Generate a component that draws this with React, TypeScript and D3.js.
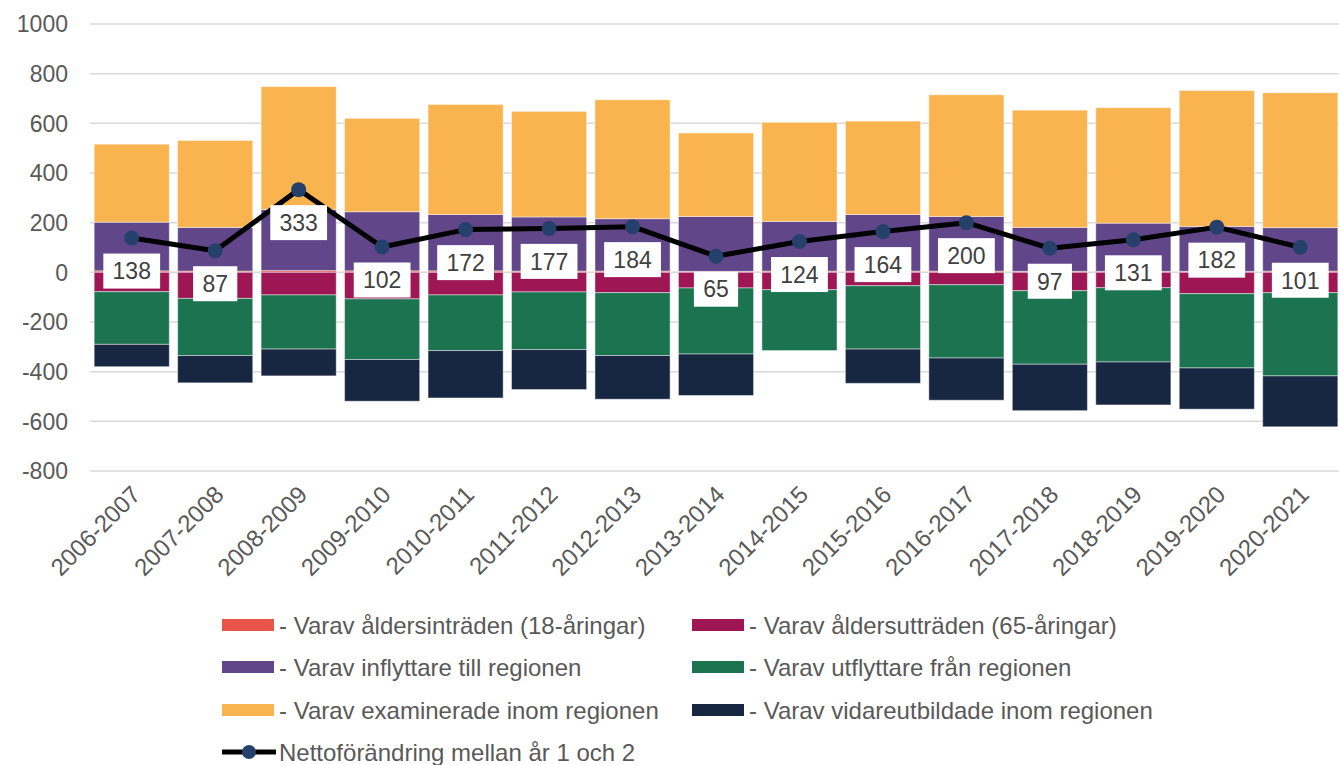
import React, { useEffect, useRef } from "react";
import * as d3 from "d3";

const years = [
  "2006-2007", "2007-2008", "2008-2009", "2009-2010", "2010-2011",
  "2011-2012", "2012-2013", "2013-2014", "2014-2015", "2015-2016",
  "2016-2017", "2017-2018", "2018-2019", "2019-2020", "2020-2021",
];

// positive parts
const aldersintraden = [6, 5, 7, 6, 6, 5, 5, 4, 5, 5, 5, 4, 4, 4, 5];
const inflyttare = [196, 176, 246, 238, 227, 218, 211, 221, 200, 228, 220, 177, 194, 181, 175];
const examinerade = [314, 350, 495, 376, 443, 425, 479, 336, 399, 376, 490, 472, 465, 547, 543];
// negative parts
const aldersutträden = [-78, -105, -91, -107, -91, -79, -82, -63, -70, -54, -50, -74, -62, -86, -82];
const utflyttare = [-212, -230, -218, -244, -224, -232, -253, -266, -245, -255, -295, -296, -299, -299, -335];
const vidareutbildade = [-90, -110, -108, -168, -191, -161, -176, -167, 0, -138, -170, -187, -173, -166, -205];
// net change
const netto = [138, 87, 333, 102, 172, 177, 184, 65, 124, 164, 200, 97, 131, 182, 101];

const yTicks = [-800, -600, -400, -200, 0, 200, 400, 600, 800, 1000];

const seriesNames = [
  "- Varav åldersinträden (18-åringar)",
  "- Varav inflyttare till regionen",
  "- Varav examinerade inom regionen",
  "- Varav åldersutträden (65-åringar)",
  "- Varav utflyttare från regionen",
  "- Varav vidareutbildade inom regionen",
];
const lineName = "Nettoförändring mellan år 1 och 2";

const colors = ["#E8554B", "#614689", "#F9B34F", "#9E1653", "#1C7350", "#172641"];

const App = () => {
  const ref = useRef<SVGSVGElement>(null);

  useEffect(() => {
    const width = 1339;
    const height = 765;
    const font = "'Liberation Sans', Arial, sans-serif";

    const svg = d3.select(ref.current);
    svg.selectAll("*").remove();
    svg.attr("width", width).attr("height", height);

    const x = d3
      .scaleBand()
      .domain(years)
      .range([90, 1342])
      .paddingInner(0.1)
      .paddingOuter(0.05);

    const y = d3.scaleLinear().domain([-800, 1000]).range([471, 24]);

    // gridlines
    svg
      .append("g")
      .selectAll("line")
      .data(yTicks)
      .join("line")
      .attr("x1", 90)
      .attr("x2", 1339)
      .attr("y1", (d) => y(d))
      .attr("y2", (d) => y(d))
      .attr("stroke", "#d9d9d9")
      .attr("stroke-width", 1.5);

    // y tick labels
    svg
      .append("g")
      .selectAll("text")
      .data(yTicks)
      .join("text")
      .attr("x", 68)
      .attr("y", (d) => y(d))
      .attr("dy", "0.36em")
      .attr("text-anchor", "end")
      .style("font-family", font)
      .style("font-size", "23px")
      .attr("fill", "#595959")
      .text((d) => d);

    // stacked bars
    const allSeries = [aldersintraden, inflyttare, examinerade, aldersutträden, utflyttare, vidareutbildade];
    const keys = allSeries.map((_, i) => "s" + i);
    const table = years.map((yr, i) => {
      const row: any = { year: yr };
      allSeries.forEach((s, k) => (row["s" + k] = s[i]));
      return row;
    });
    const stack = d3.stack().keys(keys).offset(d3.stackOffsetDiverging);
    const stacked = stack(table);

    svg
      .append("g")
      .selectAll("g")
      .data(stacked)
      .join("g")
      .attr("fill", (_, i) => colors[i])
      .selectAll("rect")
      .data((d) => d)
      .join("rect")
      .attr("x", (d: any) => x(d.data.year))
      .attr("width", x.bandwidth())
      .attr("y", (d) => y(Math.max(d[0], d[1])))
      .attr("height", (d) => Math.abs(y(d[0]) - y(d[1])))
      .attr("stroke", "rgba(255,255,255,0.45)")
      .attr("stroke-width", 1);

    // net line
    const cx = (i: number) => x(years[i])! + x.bandwidth() / 2;
    const line = d3
      .line<number>()
      .x((_, i) => cx(i))
      .y((d) => y(d));

    svg
      .append("path")
      .datum(netto)
      .attr("d", line)
      .attr("fill", "none")
      .attr("stroke", "#000")
      .attr("stroke-width", 5)
      .attr("stroke-linejoin", "round");

    svg
      .append("g")
      .selectAll("circle")
      .data(netto)
      .join("circle")
      .attr("cx", (_, i) => cx(i))
      .attr("cy", (d) => y(d))
      .attr("r", 7.5)
      .attr("fill", "#24406B");

    // data labels
    const labels = svg
      .append("g")
      .selectAll("g")
      .data(netto)
      .join("g")
      .attr("transform", (d, i) => `translate(${cx(i)},${y(d) + 33})`);

    labels
      .append("rect")
      .attr("x", (d) => -(String(d).length * 12.6 + 19) / 2)
      .attr("y", -17.5)
      .attr("width", (d) => String(d).length * 12.6 + 19)
      .attr("height", 35)
      .attr("fill", "#fff");

    labels
      .append("text")
      .attr("text-anchor", "middle")
      .attr("dy", "0.36em")
      .style("font-family", font)
      .style("font-size", "23px")
      .attr("fill", "#404040")
      .text((d) => d);

    // x labels
    svg
      .append("g")
      .selectAll("text")
      .data(years)
      .join("text")
      .attr("transform", (d) => `translate(${x(d)! + x.bandwidth() / 2 + 4},${490}) rotate(-45)`)
      .attr("text-anchor", "end")
      .attr("dy", "0.36em")
      .style("font-family", font)
      .style("font-size", "24px")
      .attr("fill", "#595959")
      .text((d) => d);

    // legend
    const legendItems = [
      { name: seriesNames[0], color: colors[0], col: 0, row: 0 },
      { name: seriesNames[3], color: colors[3], col: 1, row: 0 },
      { name: seriesNames[1], color: colors[1], col: 0, row: 1 },
      { name: seriesNames[4], color: colors[4], col: 1, row: 1 },
      { name: seriesNames[2], color: colors[2], col: 0, row: 2 },
      { name: seriesNames[5], color: colors[5], col: 1, row: 2 },
    ];
    const rowY = [625, 667, 710, 752];
    const colX = [222, 692];

    const lg = svg.append("g");
    legendItems.forEach((it) => {
      lg.append("rect")
        .attr("x", colX[it.col])
        .attr("y", rowY[it.row] - 6)
        .attr("width", 52)
        .attr("height", 12)
        .attr("fill", it.color);
      lg.append("text")
        .attr("x", colX[it.col] + 57)
        .attr("y", rowY[it.row])
        .attr("dy", "0.36em")
        .style("font-family", font)
        .style("font-size", "24px")
        .attr("fill", "#595959")
        .text(it.name);
    });
    lg.append("line")
      .attr("x1", 222)
      .attr("x2", 276)
      .attr("y1", rowY[3])
      .attr("y2", rowY[3])
      .attr("stroke", "#000")
      .attr("stroke-width", 5);
    lg.append("circle")
      .attr("cx", 249)
      .attr("cy", rowY[3])
      .attr("r", 7)
      .attr("fill", "#24406B");
    lg.append("text")
      .attr("x", 279)
      .attr("y", rowY[3])
      .attr("dy", "0.36em")
      .style("font-family", font)
      .style("font-size", "24px")
      .attr("fill", "#595959")
      .text(lineName);
  }, []);

  return (
    <div>
      <svg ref={ref} style={{ position: "absolute", left: 0, top: 0, background: "#fff" }}></svg>
    </div>
  );
};

export default App;
